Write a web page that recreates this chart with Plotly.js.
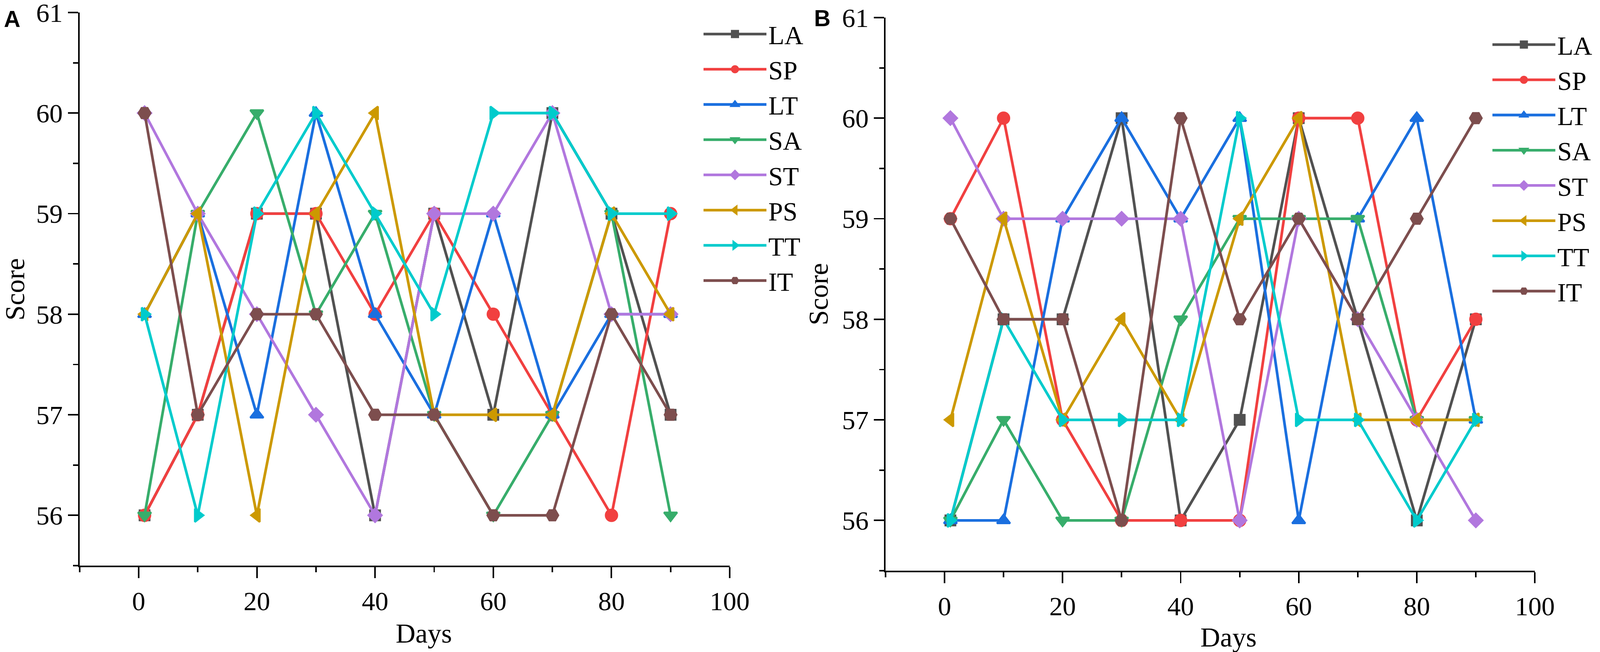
<!DOCTYPE html>
<html>
<head>
<meta charset="utf-8">
<script src="https://cdn.plot.ly/plotly-3.0.1.min.js"></script>
<style>html,body{margin:0;padding:0;background:#fff;overflow:hidden;}#chart{width:100vw;height:100vh;}</style>
</head>
<body>
<div id="chart"></div>
<script>
// ---- data ----
const days = [1, 10, 20, 30, 40, 50, 60, 70, 80, 90];
const seriesNames = ["LA", "SP", "LT", "SA", "ST", "PS", "TT", "IT"];

// Panel A
const LA_A = [56, 57, 59, 59, 56, 59, 57, 60, 59, 57];
const SP_A = [56, 57, 59, 59, 58, 59, 58, 57, 56, 59];
const LT_A = [58, 59, 57, 60, 58, 57, 59, 57, 58, 58];
const SA_A = [56, 59, 60, 58, 59, 57, 56, 57, 59, 56];
const ST_A = [60, 59, 58, 57, 56, 59, 59, 60, 58, 58];
const PS_A = [58, 59, 56, 59, 60, 57, 57, 57, 59, 58];
const TT_A = [58, 56, 59, 60, 59, 58, 60, 60, 59, 59];
const IT_A = [60, 57, 58, 58, 57, 57, 56, 56, 58, 57];

// Panel B
const LA_B = [56, 58, 58, 60, 56, 57, 60, 58, 56, 58];
const SP_B = [59, 60, 57, 56, 56, 56, 60, 60, 57, 58];
const LT_B = [56, 56, 59, 60, 59, 60, 56, 59, 60, 57];
const SA_B = [56, 57, 56, 56, 58, 59, 59, 59, 57, 57];
const ST_B = [60, 59, 59, 59, 59, 56, 59, 58, 57, 56];
const PS_B = [57, 59, 57, 58, 57, 59, 60, 57, 57, 57];
const TT_B = [56, 58, 57, 57, 57, 60, 57, 57, 56, 57];
const IT_B = [59, 58, 58, 56, 60, 58, 59, 58, 59, 60];

const xTickVals = [0, 20, 40, 60, 80, 100];
const yTickVals = [56, 57, 58, 59, 60, 61];

// ---- sizing: designed on a 4324 x 1668 canvas, fitted to the real viewport ----
const W0 = 4324, H0 = 1668;
const W = window.innerWidth || W0, H = window.innerHeight || H0;
const sx = W / W0, sy = H / H0, s = Math.sqrt(sx * sy);
const px = v => v * s;
const fx = v => v / W0;          // design x -> paper fraction
const fy = v => 1 - v / H0;      // design y (from top) -> paper fraction

// ---- styles ----
const colors = ["#515151", "#F14040", "#1A6FDF", "#37AD6B", "#B177DE", "#CC9900", "#00CBCC", "#7D4E4E"];
const symbols = ["square", "circle", "triangle-up", "triangle-down", "diamond", "triangle-left", "triangle-right", "hexagon2"];
const sizes = [26, 30, 30, 30, 27, 30, 30, 31];
const outline = 5;

const panelA = [LA_A, SP_A, LT_A, SA_A, ST_A, PS_A, TT_A, IT_A];
const panelB = [LA_B, SP_B, LT_B, SA_B, ST_B, PS_B, TT_B, IT_B];

const traces = [];
function addPanel(data, xa, ya, legendId) {
  data.forEach((vals, i) => {
    traces.push({
      type: "scatter",
      mode: "lines+markers",
      x: days,
      y: vals,
      name: seriesNames[i],
      xaxis: xa,
      yaxis: ya,
      legend: legendId,
      line: {color: colors[i], width: px(7)},
      marker: {color: colors[i], symbol: symbols[i], size: px(sizes[i]),
               line: {width: px(outline), color: colors[i]}},
      cliponaxis: false
    });
  });
}
addPanel(panelA, "x", "y", "legend");
addPanel(panelB, "x2", "y2", "legend2");

const serif = "Liberation Serif, Times New Roman, serif";
const sans = "Liberation Sans, Arial, sans-serif";

function xAxis(domain, anchor) {
  return {
    domain: domain, anchor: anchor,
    range: [-10, 100], autorange: false,
    tickmode: "array", tickvals: xTickVals, ticktext: xTickVals.map(String),
    ticks: "outside", ticklen: 28 * sy, tickwidth: px(4), tickcolor: "#000",
    minor: {dtick: 10, tick0: 0, ticks: "outside", ticklen: 13 * sy, tickwidth: px(4), tickcolor: "#000", showgrid: false},
    showline: true, linewidth: px(4), linecolor: "#000", mirror: false,
    showgrid: false, zeroline: false,
    ticklabeloverflow: "allow",
    tickfont: {family: serif, size: px(70), color: "#000"}
  };
}
function yAxis(domain, anchor) {
  return {
    domain: domain, anchor: anchor,
    range: [55.5, 61], autorange: false,
    tickmode: "array", tickvals: yTickVals, ticktext: yTickVals.map(String),
    ticks: "outside", ticklen: 27 * sx, tickwidth: px(4), tickcolor: "#000",
    minor: {dtick: 0.5, tick0: 55.5, ticks: "outside", ticklen: 13 * sx, tickwidth: px(4), tickcolor: "#000", showgrid: false},
    showline: true, linewidth: px(4), linecolor: "#000", mirror: false,
    showgrid: false, zeroline: false,
    ticklabeloverflow: "allow",
    ticklabelstandoff: 16 * sx,
    tickfont: {family: serif, size: px(70), color: "#000"}
  };
}

const legendStyle = (x, y) => ({
  x: x, y: y, xanchor: "left", yanchor: "top",
  xref: "paper", yref: "paper",
  font: {family: serif, size: 67 * sy, color: "#000"},
  bgcolor: "rgba(0,0,0,0)", borderwidth: 0,
  tracegroupgap: 0, itemsizing: "trace",
  itemwidth: Math.max(30, 170 * sx)
});

function ann(text, x, y, size, family, extra) {
  return Object.assign({
    text: text, xref: "paper", yref: "paper", x: fx(x), y: fy(y),
    xanchor: "center", yanchor: "middle", showarrow: false,
    font: {family: family, size: px(size), color: "#000"}
  }, extra || {});
}

const layout = {
  width: W, height: H,
  margin: {l: 0, r: 0, t: 0, b: 0},
  paper_bgcolor: "#fff", plot_bgcolor: "#fff",
  showlegend: true,
  xaxis: xAxis([fx(215), fx(1972)], "y"),
  yaxis: yAxis([fy(1447), fy(32)], "x"),
  xaxis2: xAxis([fx(2393), fx(4148)], "y2"),
  yaxis2: yAxis([fy(1460), fy(45)], "x2"),
  legend: legendStyle(fx(1896), fy(37)),
  legend2: legendStyle(fx(4028), fy(64)),
  annotations: [
    ann("<b>A</b>", 33, 48, 60, sans),
    ann("<b>B</b>", 2222, 46, 60, sans),
    ann("Days", 1145, 1620, 72, serif),
    ann("Days", 3320, 1630, 72, serif),
    ann("Score", 40, 740, 72, serif, {textangle: -90}),
    ann("Score", 2212, 752, 72, serif, {textangle: -90})
  ]
};

Plotly.newPlot("chart", traces, layout, {staticPlot: true, displayModeBar: false});
</script>
</body>
</html>
